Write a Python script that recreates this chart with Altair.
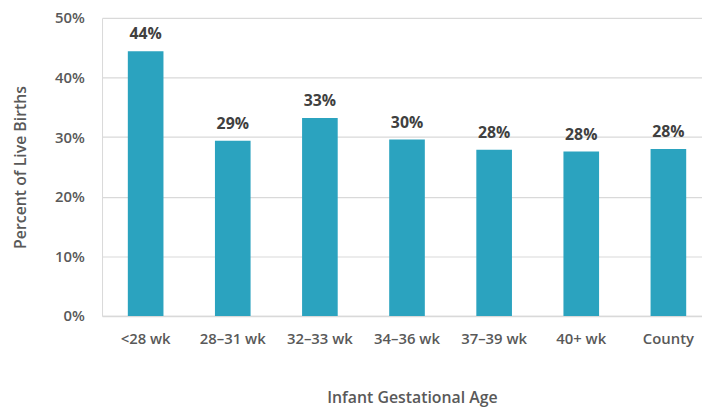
import altair as alt
import pandas as pd

categories = ["<28 wk", "28–31 wk", "32–33 wk", "34–36 wk", "37–39 wk", "40+ wk", "County"]
values = [0.444, 0.294, 0.332, 0.296, 0.279, 0.276, 0.280]

df = pd.DataFrame({"age": categories, "pct": values})

FONT = "Open Sans"
BAR = "#2ba3bf"
GRID = "#d9d9d9"

x = alt.X(
    "age:N",
    sort=categories,
    scale=alt.Scale(paddingInner=0.591, paddingOuter=0.2386, align=0.62),
    axis=alt.Axis(
        title="Infant Gestational Age",
        labelAngle=0,
        ticks=False,
        labelPadding=16,
        labelFontSize=15,
        labelFont=FONT,
        labelFontWeight=600,
        labelColor="#595959",
        domainColor=GRID,
        domainWidth=1.5,
        titleFont=FONT,
        titleFontSize=16,
        titleFontWeight=600,
        titleColor="#595959",
        titlePadding=43,
        titleX=313,
    ),
)

y = alt.Y(
    "pct:Q",
    scale=alt.Scale(domain=[0, 0.5]),
    axis=alt.Axis(
        title="Percent of Live Births",
        format=".0%",
        values=[0, 0.1, 0.2, 0.3, 0.4, 0.5],
        ticks=False,
        domain=True,
        domainColor=GRID,
        labelPadding=18,
        labelFontSize=15,
        labelFont=FONT,
        labelFontWeight=600,
        labelColor="#595959",
        gridColor=GRID,
        gridWidth=1.2,
        titleFont=FONT,
        titleFontSize=16,
        titleFontWeight=600,
        titleColor="#595959",
        titlePadding=26,
    ),
)

bars = alt.Chart(df).mark_bar(color=BAR).encode(x=x, y=y)

labels = alt.Chart(df).mark_text(
    font=FONT, fontSize=16, fontWeight="bold", color="#404040",
    baseline="alphabetic", dy=-12,
).encode(
    x=alt.X("age:N", sort=categories),
    y="pct:Q",
    text=alt.Text("pct:Q", format=".0%"),
)

chart = (
    alt.layer(bars, labels)
    .properties(
        width=606,
        height=301,
        autosize=alt.AutoSizeParams(type="none"),
        padding={"left": 95, "top": 8, "right": 0, "bottom": 92},
    )
    .configure_view(stroke=None)
)

chart.save("out.html", embed_options={"renderer": "svg", "actions": False})
